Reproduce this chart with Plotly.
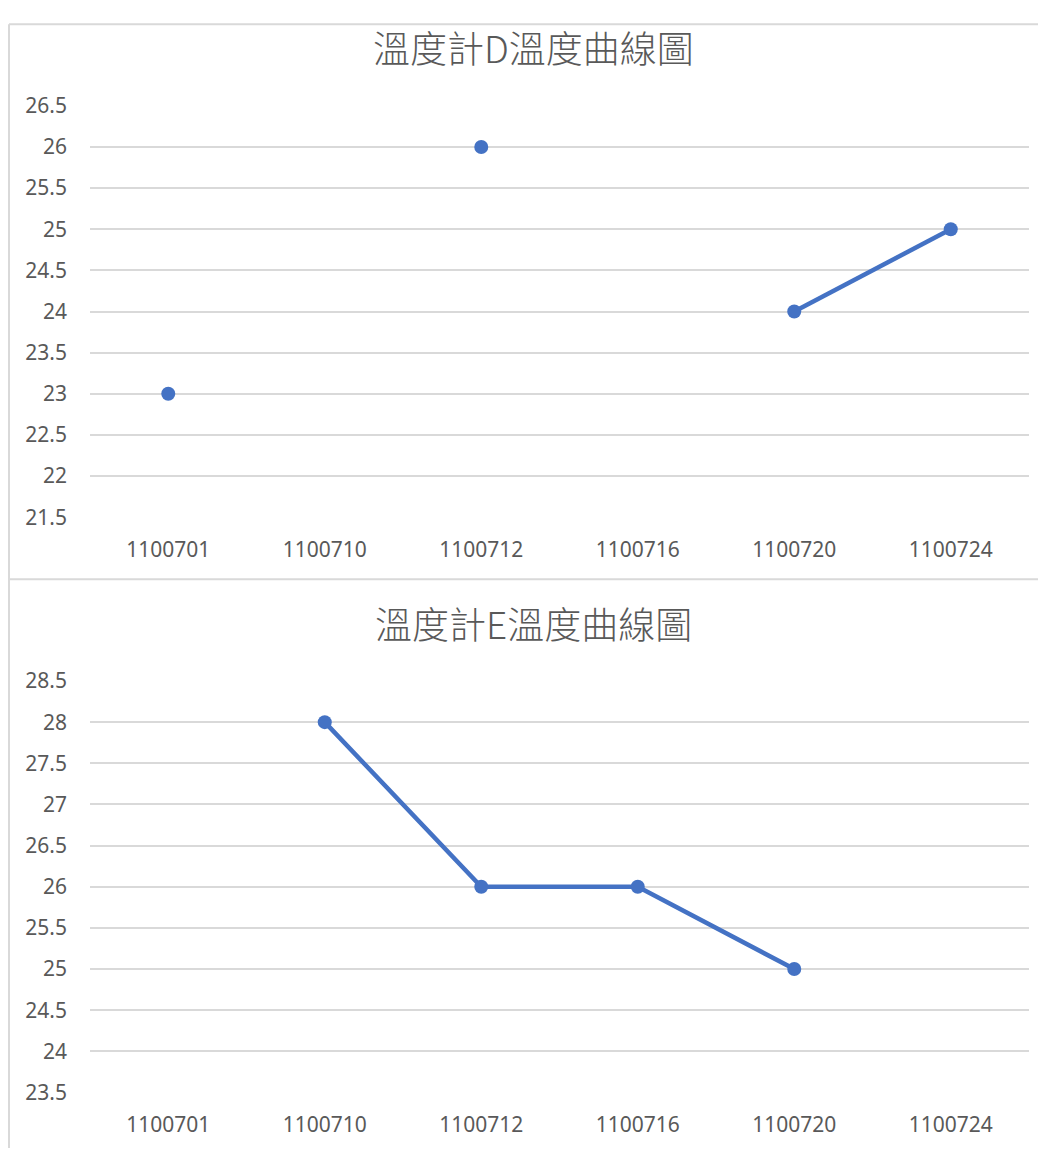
import plotly.graph_objects as go

categories = ["1100701", "1100710", "1100712", "1100716", "1100720", "1100724"]
values_d = [23, None, 26, None, 24, 25]
values_e = [None, 28, 26, 26, 25, None]
title_d = "溫度計D溫度曲線圖"
title_e = "溫度計E溫度曲線圖"

W, H = 1046, 1153
# calibrated mapping from desired screenshot pixels to paper coordinates
def py(p):
    return 1 - (p - 23.1) / 1126.5
def px(p):
    return (p - 8) / W

BLUE = "#4472C4"
GRID = "#D9D9D9"
TXT = "#595959"
FONT = "Noto Sans, sans-serif"
TFONT = "Noto Sans CJK TC, Noto Sans, sans-serif"

fig = go.Figure()
fig.add_trace(go.Scatter(x=categories, y=values_d, mode="lines+markers",
                         line=dict(color=BLUE, width=4.5), marker=dict(color=BLUE, size=14),
                         connectgaps=False, xaxis="x", yaxis="y", showlegend=False))
fig.add_trace(go.Scatter(x=categories, y=values_e, mode="lines+markers",
                         line=dict(color=BLUE, width=4.5), marker=dict(color=BLUE, size=14),
                         connectgaps=False, xaxis="x2", yaxis="y2", showlegend=False))

xcommon = dict(type="category", categoryorder="array", categoryarray=categories,
               range=[-0.5, 5.5], domain=[px(90), px(1029)], showgrid=False,
               zeroline=False, showline=False, ticks="", ticklabelstandoff=18,
               tickfont=dict(size=21, color=TXT, family=FONT))
ycommon = dict(dtick=0.5, showgrid=True, gridcolor=GRID, gridwidth=2, zeroline=False,
               showline=False, ticks="", ticklabelstandoff=22,
               tickfont=dict(size=21, color=TXT, family=FONT))

fig.update_layout(
    width=W, height=H, margin=dict(l=0, r=0, t=0, b=0),
    paper_bgcolor="white", plot_bgcolor="white",
    xaxis=dict(**xcommon, anchor="y"),
    yaxis=dict(**ycommon, range=[21.5, 26.5], domain=[py(518), py(106)], anchor="x"),
    xaxis2=dict(**xcommon, anchor="y2"),
    yaxis2=dict(**ycommon, range=[23.5, 28.5], domain=[py(1094), py(682)], anchor="x2"),
    annotations=[
        dict(text=title_d, x=px(533), y=py(47), xref="paper", yref="paper",
             showarrow=False, xanchor="center", yanchor="middle",
             font=dict(size=37, color=TXT, family=TFONT, weight=300)),
        dict(text=title_e, x=px(533), y=py(624), xref="paper", yref="paper",
             showarrow=False, xanchor="center", yanchor="middle",
             font=dict(size=37, color=TXT, family=TFONT, weight=300)),
    ],
    shapes=[
        dict(type="line", xref="paper", yref="paper", x0=px(9), x1=1, y0=0.999, y1=0.999,
             line=dict(color=GRID, width=2)),
        dict(type="line", xref="paper", yref="paper", x0=px(9), x1=px(9), y0=0.999, y1=0,
             line=dict(color=GRID, width=2)),
        dict(type="line", xref="paper", yref="paper", x0=px(9), x1=1, y0=py(580), y1=py(580),
             line=dict(color=GRID, width=2)),
    ],
)

fig.write_html("out.html")
